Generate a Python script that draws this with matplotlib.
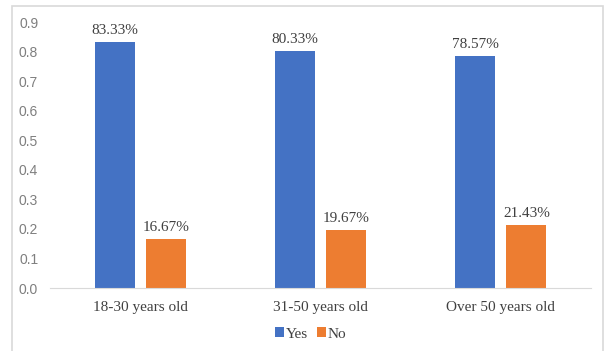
import matplotlib.pyplot as plt
import numpy as np
from matplotlib.patches import Rectangle

groups = ["18-30 years old", "31-50 years old", "Over 50 years old"]
yes_vals = [0.8333, 0.8033, 0.7857]
no_vals = [0.1667, 0.1967, 0.2143]
yes_labels = ["83.33%", "80.33%", "78.57%"]
no_labels = ["16.67%", "19.67%", "21.43%"]

W, H = 606, 351
fig = plt.figure(figsize=(W / 100, H / 100), dpi=100)

# outer border of the chart box
fig.patches.append(Rectangle((12 / W, -0.01), (603 - 12) / W, (351 - 6) / H + 0.01,
                             transform=fig.transFigure, fill=False,
                             edgecolor="#d9d9d9", linewidth=1.2))

ax = fig.add_axes([50 / W, (H - 288) / H, (591 - 50) / W, (288 - 22) / H])

x = np.arange(len(groups))
bw = 0.222
off = 0.283
ax.bar(x - off / 2, yes_vals, bw, color="#4472c4", label="Yes")
ax.bar(x + off / 2, no_vals, bw, color="#ed7d31", label="No")

serif = ["Liberation Serif", "DejaVu Serif"]
for i in range(len(groups)):
    ax.text(x[i] - off / 2, yes_vals[i] + 0.015, yes_labels[i], ha="center", va="bottom",
            fontsize=11, family=serif, color="#404040")
    ax.text(x[i] + off / 2, no_vals[i] + 0.015, no_labels[i], ha="center", va="bottom",
            fontsize=11, family=serif, color="#404040")

ax.set_xlim(-0.5, 2.5)
ax.set_ylim(0, 0.9)
ax.set_yticks(np.arange(0, 0.91, 0.1))
ax.set_yticklabels([f"{v:.1f}" for v in np.arange(0, 0.91, 0.1)],
                   family="Liberation Sans", fontsize=10, color="#7f7f7f")
ax.set_xticks(x)
ax.set_xticklabels(groups, family=serif, fontsize=11, color="#404040")
ax.tick_params(axis="both", length=0)
ax.tick_params(axis="x", pad=9)
ax.tick_params(axis="y", pad=8.5)
for s in ["top", "right", "left"]:
    ax.spines[s].set_visible(False)
ax.spines["bottom"].set_color("#d9d9d9")

leg = fig.legend(loc="center", bbox_to_anchor=(311 / W, (H - 334) / H), ncol=2,
                 frameon=False, handlelength=0.55, handleheight=0.55, handletextpad=0.15,
                 columnspacing=0.6, prop={"family": serif, "size": 11})
for t in leg.get_texts():
    t.set_color("#404040")

fig.savefig("out.png", dpi=100)
